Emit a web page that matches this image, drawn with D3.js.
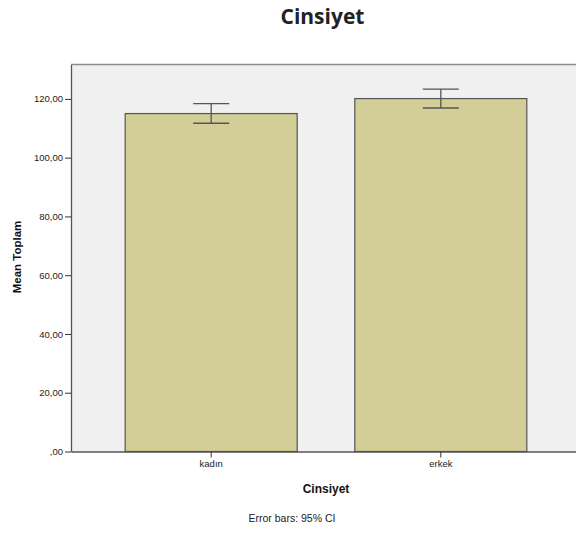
<!DOCTYPE html>
<html>
<head>
<meta charset="utf-8">
<script src="https://cdn.jsdelivr.net/npm/d3@7/dist/d3.min.js"></script>
<style>
  html, body { margin: 0; padding: 0; background: #fff; }
  svg { display: block; }
</style>
</head>
<body>
<svg id="chart" width="576" height="534"></svg>
<script>
// Mean Toplam by Cinsiyet, with 95% confidence intervals
const categories = ["kadın", "erkek"];
const means = [115.0, 120.1];
const ciLow = [111.7, 116.9];
const ciHigh = [118.4, 123.3];
const yTicks = [0, 20, 40, 60, 80, 100, 120];

const svg = d3.select("#chart");
const plotLeft = 71, plotRight = 581, plotTop = 64.5, plotBottom = 451.5;

const x = d3.scaleBand().domain(categories).range([plotLeft, plotRight])
  .paddingInner(0.251).paddingOuter(0.236);
const y = d3.scaleLinear().domain([0, 131.7]).range([plotBottom, plotTop]);

const fmt = v => (v === 0 ? "" : String(v)) + ",00";

// plot background
svg.append("rect")
  .attr("x", plotLeft).attr("y", plotTop)
  .attr("width", plotRight - plotLeft).attr("height", plotBottom - plotTop)
  .attr("fill", "#f0f0f0");
svg.append("line")
  .attr("x1", plotLeft).attr("x2", plotRight).attr("y1", plotTop).attr("y2", plotTop)
  .attr("stroke", "#8c8c8c").attr("stroke-width", 1.5);

// bars
svg.append("g").selectAll("rect").data(categories).join("rect")
  .attr("x", d => x(d))
  .attr("y", (d, i) => y(means[i]))
  .attr("width", x.bandwidth())
  .attr("height", (d, i) => plotBottom - y(means[i]))
  .attr("fill", "#d3ce98")
  .attr("stroke", "#555555")
  .attr("stroke-width", 1.2);

// error bars
const eb = svg.append("g").attr("stroke", "#555555").attr("stroke-width", 1.3);
categories.forEach((c, i) => {
  const cx = x(c) + x.bandwidth() / 2;
  eb.append("line").attr("x1", cx).attr("x2", cx)
    .attr("y1", y(ciLow[i])).attr("y2", y(ciHigh[i]));
  [ciLow[i], ciHigh[i]].forEach(v => {
    eb.append("line").attr("x1", cx - 18).attr("x2", cx + 18)
      .attr("y1", y(v)).attr("y2", y(v));
  });
});

// y axis
const yAxis = svg.append("g").attr("transform", `translate(${plotLeft},0)`)
  .call(d3.axisLeft(y).tickValues(yTicks).tickFormat(fmt).tickSize(6).tickSizeOuter(0).tickPadding(2));
yAxis.select(".domain").attr("stroke", "#555").attr("stroke-width", 1.3);
yAxis.selectAll(".tick line").attr("stroke", "#333");
yAxis.selectAll("text").attr("font-family", "Liberation Sans, Arial, sans-serif")
  .attr("font-size", 9.5).attr("fill", "#222");

// x axis
const xAxis = svg.append("g").attr("transform", `translate(0,${plotBottom})`)
  .call(d3.axisBottom(x).tickSize(6).tickPadding(3).tickSizeOuter(0));
xAxis.select(".domain").attr("stroke", "#555").attr("stroke-width", 1.5);
xAxis.selectAll(".tick line").attr("stroke", "#333");
xAxis.selectAll("text").attr("font-family", "Liberation Sans, Arial, sans-serif")
  .attr("font-size", 9.5).attr("fill", "#222");

// titles
svg.append("text").attr("x", 322.5).attr("y", 23.5).attr("text-anchor", "middle")
  .attr("font-family", "Open Sans, sans-serif").attr("font-weight", "bold")
  .attr("font-size", 21).attr("fill", "#222").text("Cinsiyet");

svg.append("text").attr("x", 326).attr("y", 493).attr("text-anchor", "middle")
  .attr("font-family", "Liberation Sans, Arial, sans-serif").attr("font-weight", "bold")
  .attr("font-size", 12).attr("fill", "#111").text("Cinsiyet");

svg.append("text").attr("transform", "translate(21,257) rotate(-90)")
  .attr("text-anchor", "middle")
  .attr("font-family", "Liberation Sans, Arial, sans-serif").attr("font-weight", "bold")
  .attr("font-size", 11.5).attr("fill", "#111").text("Mean Toplam");

svg.append("text").attr("x", 292).attr("y", 522).attr("text-anchor", "middle")
  .attr("font-family", "Liberation Sans, Arial, sans-serif")
  .attr("font-size", 10.5).attr("fill", "#222").text("Error bars: 95% CI");
</script>
</body>
</html>
